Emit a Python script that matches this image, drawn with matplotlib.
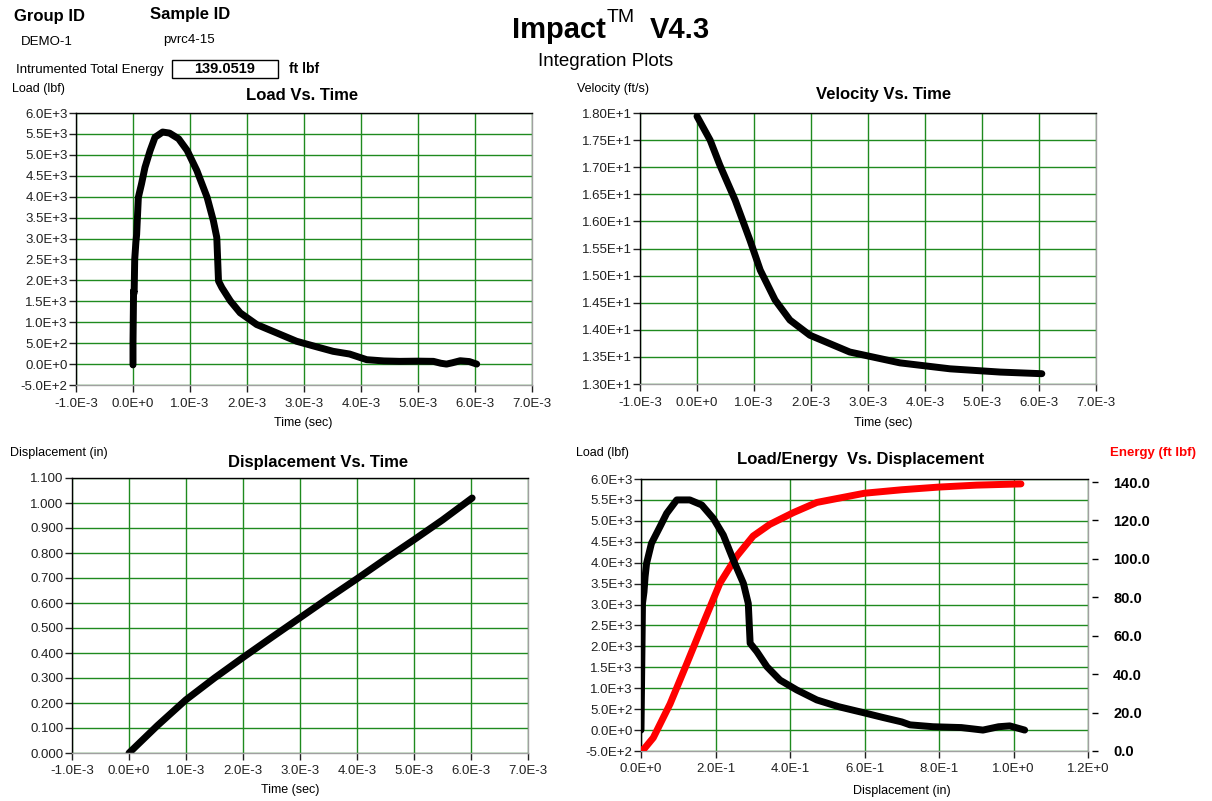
import numpy as np
import matplotlib
matplotlib.use("Agg")
import matplotlib.pyplot as plt
from matplotlib.patches import Rectangle
from matplotlib.ticker import FuncFormatter

plt.rcParams['font.family'] = ['Liberation Sans', 'DejaVu Sans']

# --- data (time in ms, converted below) ---
load_t_ms = [0.0, 0.0, 0.01, 0.02, 0.03, 0.05, 0.064, 0.094, 0.15, 0.21, 0.30, 0.386,
             0.52, 0.64, 0.80, 0.95, 1.12, 1.30, 1.41, 1.47, 1.50, 1.56, 1.71, 1.88,
             2.17, 2.52, 2.87, 3.2, 3.51, 3.8, 4.10, 4.4, 4.68, 5.0, 5.27, 5.4, 5.5,
             5.6, 5.74, 5.9, 6.03]
load_t_lbf = [-20, 500, 1750, 1700, 2500, 2900, 3100, 3984, 4310, 4700, 5100, 5420,
              5545, 5520, 5385, 5105, 4625, 3985, 3425, 3025, 1985, 1825, 1505, 1225,
              945, 745, 545, 420, 305, 240, 105, 75, 65, 70, 65, 20, 0,
              30, 80, 60, 0]

vel_t_ms = [0.0, 0.23, 0.40, 0.67, 0.93, 1.11, 1.37, 1.63, 1.98, 2.68, 3.56, 4.44, 5.32, 6.05]
vel_fts = [17.94, 17.50, 17.04, 16.39, 15.65, 15.10, 14.55, 14.18, 13.90, 13.59, 13.39,
           13.28, 13.22, 13.19]

disp_t_ms = [0, 0.5, 1, 1.5, 2, 2.5, 3, 3.5, 4, 4.5, 5, 5.5, 6.02]
disp_in = [0, 0.110, 0.213, 0.300, 0.382, 0.462, 0.541, 0.620, 0.697, 0.776, 0.853,
           0.932, 1.02]

ld_disp = [0.0, 0.002, 0.004, 0.008, 0.011, 0.015, 0.028, 0.051, 0.069, 0.096, 0.131,
           0.163, 0.194, 0.221, 0.248, 0.275, 0.288, 0.293, 0.311, 0.338, 0.373, 0.418,
           0.472, 0.53, 0.60, 0.65, 0.70, 0.722, 0.784, 0.86, 0.918, 0.96, 0.99, 1.03]
ld_load = [0, 1500, 3030, 3300, 3665, 3985, 4460, 4860, 5180, 5500, 5500, 5380, 5060,
           4660, 4060, 3505, 3025, 2075, 1875, 1515, 1195, 960, 720, 560, 410, 300,
           195, 125, 80, 60, 0, 80, 100, 0]

en_disp = [0.0, 0.01, 0.033, 0.078, 0.123, 0.167, 0.212, 0.257, 0.301, 0.346, 0.409,
           0.472, 0.6, 0.7, 0.8, 0.9, 1.02]
en_ftlbf = [0.0, 1.5, 6.9, 24.5, 45.5, 66.4, 87.4, 101.4, 111.9, 118.0, 124.1, 129.4,
            134.2, 136.0, 137.4, 138.4, 139.05]

time_ticks = [i * 1e-3 for i in range(-1, 8)]
load_ticks = [i * 500 for i in range(-1, 13)]
vel_ticks = [13.0 + i * 0.5 for i in range(11)]
disp_ticks = [i * 0.1 for i in range(12)]
dx_ticks = [i * 0.2 for i in range(7)]
en_ticks = [i * 20 for i in range(8)]

W, H = 1212, 801
GRID = '#1f8a1f'


def sci(nd):
    def f(v, pos=None):
        m, e = f"{v:.{nd}E}".split('E')
        return f"{m}E{int(e):+d}"
    return FuncFormatter(f)


def box(l, t, r, b):
    return [l / W, 1 - b / H, (r - l) / W, (b - t) / H]


def ftext(x, y, s, **kw):
    kw.setdefault('va', 'center')
    kw.setdefault('fontsize', 9.5)
    fig.text(x / W, 1 - y / H, s, **kw)


def style(ax, xt, yt, xf, yf):
    ax.set_xlim(xt[0], xt[-1])
    ax.set_ylim(yt[0], yt[-1])
    ax.set_xticks(xt)
    ax.set_yticks(yt)
    ax.xaxis.set_major_formatter(xf)
    ax.yaxis.set_major_formatter(yf)
    ax.grid(True, color=GRID, lw=1.0)
    ax.set_axisbelow(True)
    ax.spines['top'].set_color('black')
    ax.spines['left'].set_color('black')
    ax.spines['right'].set_color('#a0a0a0')
    ax.spines['bottom'].set_color('#a0a0a0')
    for s in ax.spines.values():
        s.set_linewidth(1.0)
    ax.tick_params(axis='y', length=5, width=1, pad=1, labelsize=9.5, colors='#202020')
    ax.tick_params(axis='x', length=5, width=1, pad=4, labelsize=9.5, colors='#202020')


fig = plt.figure(figsize=(W / 100, H / 100), dpi=100)

lw = 5
ms = 1e-3

# Load vs time
ax1 = fig.add_axes(box(76, 113, 532, 385))
style(ax1, time_ticks, load_ticks, sci(1), sci(1))
ax1.plot(np.array(load_t_ms) * ms, load_t_lbf, color='black', lw=lw,
         solid_capstyle='round', solid_joinstyle='round')

# Velocity vs time
ax2 = fig.add_axes(box(640, 113, 1096, 384))
style(ax2, time_ticks, vel_ticks, sci(1), sci(2))
ax2.plot(np.array(vel_t_ms) * ms, vel_fts, color='black', lw=lw,
         solid_capstyle='round', solid_joinstyle='round')

# Displacement vs time
ax3 = fig.add_axes(box(72, 478, 528, 753))
style(ax3, time_ticks, disp_ticks, sci(1), FuncFormatter(lambda v, p: f"{v:.3f}"))
ax3.plot(np.array(disp_t_ms) * ms, disp_in, color='black', lw=lw,
         solid_capstyle='round', solid_joinstyle='round')

# Load/Energy vs displacement
ax4 = fig.add_axes(box(641, 479, 1088, 751))
style(ax4, dx_ticks, load_ticks, sci(1), sci(1))
ax4r = ax4.twinx()
ax4r.set_ylim(0, 141.6)
ax4r.set_yticks(en_ticks)
ax4r.yaxis.set_major_formatter(FuncFormatter(lambda v, p: f"{v:.1f}"))
for s in ax4r.spines.values():
    s.set_visible(False)
ax4r.spines['right'].set_position(('outward', 3))
ax4r.tick_params(axis='y', length=4, width=1, pad=11, labelsize=10.5, colors='black')
for lab in ax4r.get_yticklabels():
    lab.set_fontweight('bold')
ax4r.plot(en_disp, en_ftlbf, color='#ff0000', lw=lw, solid_capstyle='round', zorder=2)
ax4r.plot(ld_disp, ld_load, color='black', lw=lw, solid_capstyle='round',
          solid_joinstyle='round', zorder=3,
          transform=ax4.transData)

# header text
ftext(14, 17, 'Group ID', fontsize=12, fontweight='bold')
ftext(150, 15, 'Sample ID', fontsize=12, fontweight='bold')
ftext(21, 42, 'DEMO-1')
ftext(163, 40, 'pvrc4-15')
ftext(16, 70, 'Intrumented Total Energy')
fig.patches.append(Rectangle((172 / W, 1 - 78 / H), 106 / W, 18 / H, fill=False,
                             edgecolor='black', lw=1.0, transform=fig.transFigure))
ftext(225, 69, '139.0519', ha='center', fontsize=10.5, fontweight='bold')
ftext(289, 69, 'ft lbf', fontsize=10, fontweight='bold')

ftext(512, 30, 'Impact', fontsize=21, fontweight='bold')
ftext(607, 18, 'TM', fontsize=14)
ftext(650, 30, 'V4.3', fontsize=21, fontweight='bold')
ftext(606, 61, 'Integration Plots', ha='center', fontsize=13.5)

# panel titles and labels
ftext(302, 95, 'Load Vs. Time', ha='center', fontsize=12, fontweight='bold')
ftext(884, 94, 'Velocity Vs. Time', ha='center', fontsize=12, fontweight='bold')
ftext(318, 462, 'Displacement Vs. Time', ha='center', fontsize=12, fontweight='bold')
ftext(861, 460, 'Load/Energy  Vs. Displacement', ha='center', fontsize=12, fontweight='bold')

ftext(12, 89, 'Load (lbf)', fontsize=9)
ftext(577, 89, 'Velocity (ft/s)', fontsize=9)
ftext(10, 453, 'Displacement (in)', fontsize=9)
ftext(576, 453, 'Load (lbf)', fontsize=9)
ftext(1110, 453, 'Energy (ft lbf)', fontsize=9.5, fontweight='bold', color='#ff0000')

ftext(303, 423, 'Time (sec)', ha='center', fontsize=9)
ftext(883, 423, 'Time (sec)', ha='center', fontsize=9)
ftext(290, 790, 'Time (sec)', ha='center', fontsize=9)
ftext(902, 791, 'Displacement (in)', ha='center', fontsize=9)

fig.savefig('out.png', dpi=100, facecolor='white')
